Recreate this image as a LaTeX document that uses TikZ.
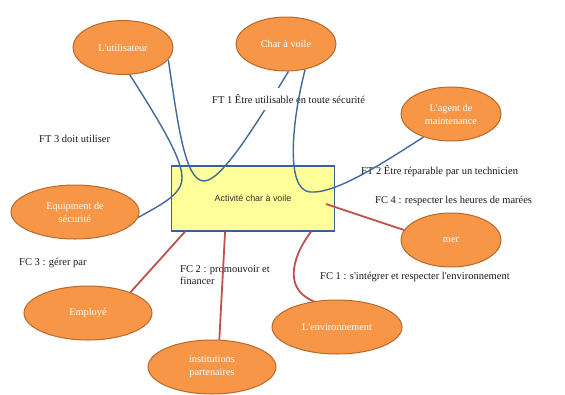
\documentclass[tikz,border=0pt]{standalone}
\usepackage{fontspec}
\setmainfont{Liberation Serif}[Ligatures=TeXOff]
\setsansfont{Liberation Sans}
\usetikzlibrary{shapes.geometric,calc}
\definecolor{orfill}{HTML}{F79646}
\definecolor{ordraw}{HTML}{B7692C}
\definecolor{bluel}{HTML}{41689B}
\definecolor{redl}{HTML}{C0504D}
\definecolor{yel}{HTML}{FFFF99}
\definecolor{rectb}{HTML}{3D5F92}
\pgfdeclarelayer{l0}
\pgfdeclarelayer{l1}
\pgfdeclarelayer{l2}
\pgfdeclarelayer{l3}
\pgfsetlayers{l0,l1,l2,l3,main}
\begin{document}
\begin{tikzpicture}[x=1pt,y=-1pt,
  ell/.style={ellipse, draw=ordraw, line width=1pt, fill=orfill, text=white,
    font=\fontsize{10.3}{13}\selectfont, align=center, inner sep=0pt,
    minimum width=100pt, minimum height=54pt},
  lab/.style={font=\fontsize{10.5}{12.5}\selectfont, text=black!90, inner sep=0pt, anchor=west},
  blu/.style={draw=bluel, line width=1.4pt},
  redc/.style={draw=redl, line width=1.8pt},
  actbox/.style={draw=rectb, fill=yel, line width=1.3pt, minimum width=163pt,
    minimum height=65pt, font=\sffamily\fontsize{8.9}{10}\selectfont, text=black!80}]
\useasboundingbox (0,0) rectangle (565,394);

% ellipses
\node[ell] (u) at (123,47.5) {L'utilisateur};
\node[ell] (cv) at (286,44) {Char à voile};
\node[ell] (ag) at (451,114) {L'agent de\\maintenance};
\node[ell, minimum width=128pt] (eq) at (75,212) {Equipment de\\sécurité};
\node[ell, minimum width=128pt] (em) at (88,313) {Employé};
\node[ell, minimum width=128pt] (in) at (212,367) {institutions\\partenaires};
\node[ell, minimum width=130pt] (en) at (337,327) {L'environnement};
\node[ell] (me) at (451,240) {mer};

\begin{pgfonlayer}{l0}
\node[actbox] (act) at (253,198.5) {Activité char à voile};
\node[lab] (ft3) at (39,139) {FT 3 doit utiliser};
\node[lab] (ft2) at (361,171) {FT 2 Être réparable par un technicien};
\node[lab] (fc4) at (375,201) {FC 4 : respecter les heures de marées};
\node[lab] (fc3) at (19,263) {FC 3 : gérer par};
\node[lab, align=left, anchor=north west] (fc2) at (180,265) {FC 2 : promouvoir et\\financer};
\node[lab] (fc1) at (320,277) {FC 1 : s'intégrer et respecter l'environnement};
\end{pgfonlayer}

\begin{pgfonlayer}{l1}
\draw[blu] (u.-76) .. controls (165,130) and (182,160) .. (182,178)
  .. controls (182,195) and (160,205) .. (eq.-5);
\draw[blu] (u.-15) .. controls (178,125) and (185,181) .. (204,181)
  .. controls (220,181) and (250,135) .. (cv.-85);
\draw[redc] ($(act.south west)!0.086!(act.south east)$) -- (em.26);
\draw[redc] ($(act.south west)!0.33!(act.south east)$) -- (in.75);
\draw[redc] ($(act.south west)!0.853!(act.south east)$) .. controls (290,260) and (285,290) .. (en.132);
\coordinate (fc4s) at (326,204);
\draw[redc] (fc4s) -- (me.168);
\end{pgfonlayer}

\begin{pgfonlayer}{l2}
\node[lab, fill=white, inner xsep=1pt, inner ysep=6pt] (ft1) at (211,99) {FT 1 Être utilisable en toute sécurité};
\end{pgfonlayer}

\begin{pgfonlayer}{l3}
\draw[blu] (cv.-53) .. controls (292,120) and (285,190) .. (310,192)
  .. controls (335,194) and (380,165) .. (ag.-140);
\end{pgfonlayer}
\end{tikzpicture}
\end{document}
